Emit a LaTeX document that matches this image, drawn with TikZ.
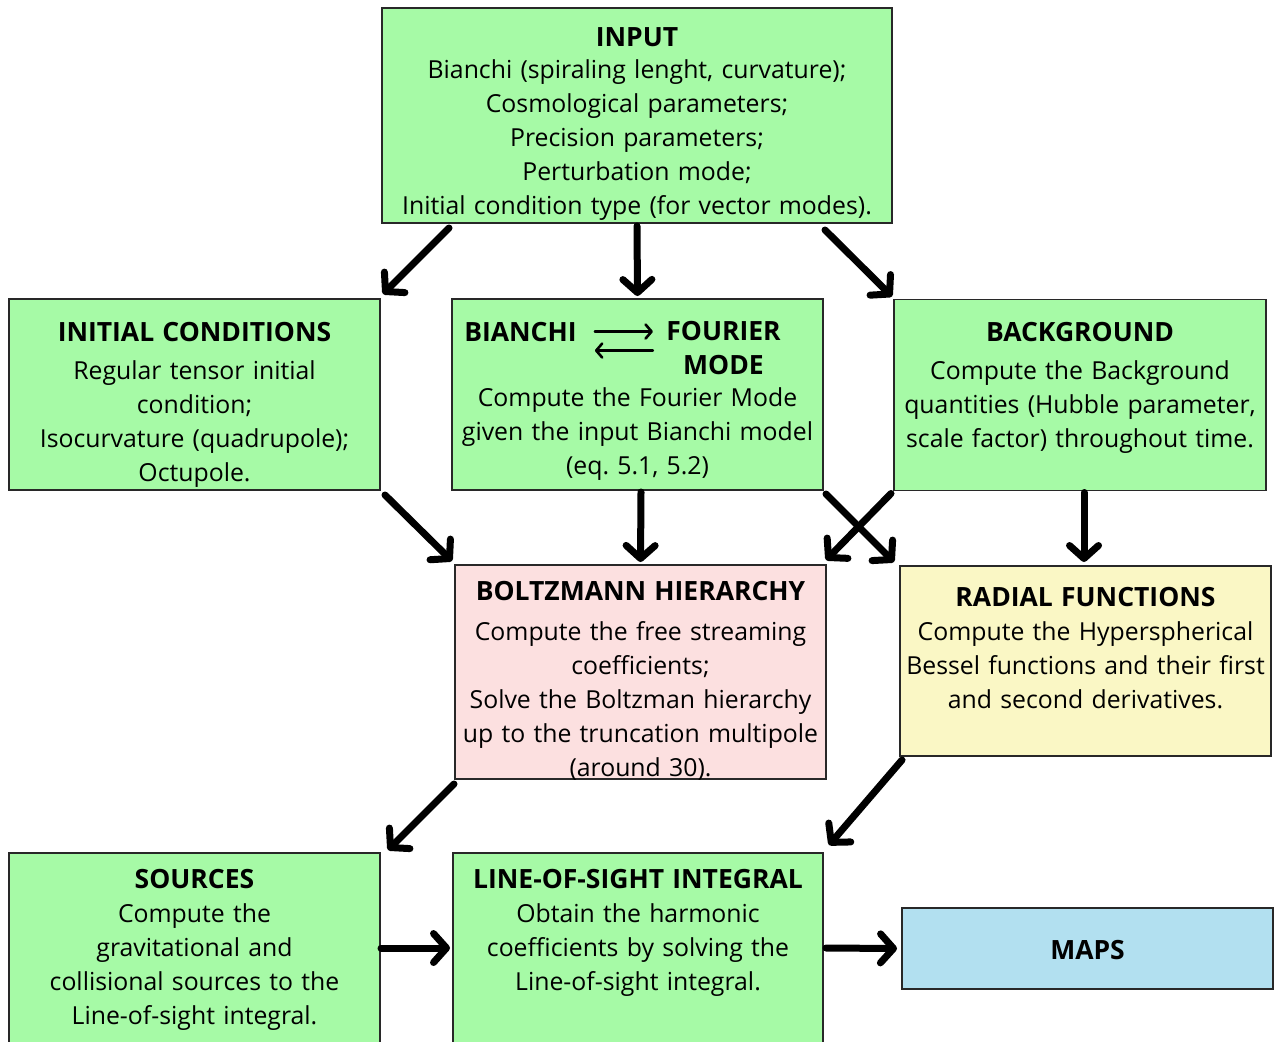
\documentclass[tikz,border=0pt]{standalone}
\usepackage{fontspec}
\setmainfont{Open Sans}
\usetikzlibrary{arrows.meta}
\definecolor{boxgreen}{RGB}{166,250,166}
\definecolor{boxpink}{RGB}{252,224,224}
\definecolor{boxyellow}{RGB}{250,247,197}
\definecolor{boxblue}{RGB}{178,224,240}
\definecolor{boxline}{RGB}{40,40,40}
\newcommand{\boxtitle}[1]{{\fontsize{26.5}{34}\selectfont\bfseries #1}}
\frenchspacing
\begin{document}
\begin{tikzpicture}[x=1pt,y=-1pt,font=\fontsize{24.8}{34}\selectfont,
        box/.style={draw=boxline,line width=1.6pt,align=center,anchor=base,inner xsep=2pt,inner ysep=0pt,outer sep=0pt},
        arr/.style={line width=7pt,line cap=round,-{Straight Barb[length=13pt,width=29pt,round]}},
        harr/.style={line width=2.6pt,line cap=round,-{Straight Barb[length=6pt,width=14pt,round]}}]
            \useasboundingbox (0,0) rectangle (1284,1041);
            \node[box,fill=boxgreen,text width=506pt,text height=39pt,text depth=176pt] (input) at (637,47)
                {\boxtitle{INPUT}\\[-2pt]Bianchi (spiraling lenght, curvature);\\Cosmological parameters;\\Precision parameters;\\Perturbation mode;\\Initial condition type (for vector modes).};
            \node[box,fill=boxgreen,text width=367pt,text height=42pt,text depth=149pt] (init) at (194.5,341)
                {\boxtitle{INITIAL CONDITIONS}\\[4pt]Regular tensor initial\\condition;\\Isocurvature (quadrupole);\\Octupole.};
            \node[box,fill=boxgreen,text width=367pt,text height=107.5pt,text depth=83.5pt] (bianchi) at (637.5,406.5)
                {Compute the Fourier Mode\\given the input Bianchi model\\(eq. 5.1, 5.2)};
            \node[inner sep=0pt,anchor=base] (bianchit) at (520.5,341) {\boxtitle{BIANCHI}};
            \node[inner sep=0pt,anchor=base,align=center] (fourt) at (723.5,374) {\boxtitle{FOURIER}\\\boxtitle{MODE}};
            \draw[harr] ([xshift=18pt,yshift=0pt]bianchit.east) -- ([xshift=76pt,yshift=0pt]bianchit.east);
            \draw[harr] ([xshift=76pt,yshift=-19pt]bianchit.east) -- ([xshift=18pt,yshift=-19pt]bianchit.east);
            \node[box,fill=boxgreen,text width=368pt,text height=41.5pt,text depth=149.5pt] (backgr) at (1080,341)
                {\boxtitle{BACKGROUND}\\[4pt]Compute the Background\\quantities (Hubble parameter,\\scale factor) throughout time.};
            \node[box,fill=boxpink,text width=367pt,text height=35pt,text depth=179pt] (boltz) at (640.5,600)
                {\boxtitle{BOLTZMANN HIERARCHY}\\[6pt]Compute the free streaming\\coefficients;\\Solve the Boltzman hierarchy\\up to the truncation multipole\\(around 30).};
            \node[box,fill=boxyellow,text width=367pt,text height=40pt,text depth=150pt] (radial) at (1085.5,606)
                {\boxtitle{RADIAL FUNCTIONS}\\Compute the Hyperspherical\\Bessel functions and their first\\and second derivatives.};
            \node[box,fill=boxgreen,text width=367pt,text height=35pt,text depth=190pt] (sources) at (194.5,888)
                {\boxtitle{SOURCES}\\Compute the\\gravitational and\\collisional sources to the\\Line-of-sight integral.};
            \node[box,fill=boxgreen,text width=366pt,text height=35pt,text depth=190pt] (los) at (638,888)
                {\boxtitle{LINE-OF-SIGHT INTEGRAL}\\Obtain the harmonic\\coefficients by solving the\\Line-of-sight integral.};
            \node[box,fill=boxblue,text width=367pt,text height=51.5pt,text depth=29.5pt] (maps) at (1087.5,959.5)
                {\boxtitle{MAPS}};
            \draw[arr] ([xshift=-188pt,yshift=-5pt]input.south) -- ([xshift=3pt,yshift=5pt]init.north east);
            \draw[arr] ([yshift=-3pt]input.south) -- ([yshift=3pt]bianchi.north);
            \draw[arr] ([xshift=-67pt,yshift=-7pt]input.south east) -- ([xshift=-2pt,yshift=3pt]backgr.north west);
            \draw[arr] ([xshift=5pt,yshift=-5pt]init.south east) -- ([xshift=-3pt,yshift=4pt]boltz.north west);
            \draw[arr] ([xshift=3.5pt,yshift=-2pt]bianchi.south) -- ([yshift=3pt]boltz.north);
            \draw[arr] ([xshift=-3pt,yshift=-3pt]backgr.south west) -- ([yshift=5pt]boltz.north east);
            \draw[arr] ([xshift=3pt,yshift=-4pt]bianchi.south east) -- ([xshift=-6pt,yshift=4pt]radial.north west);
            \draw[arr] ([xshift=4pt,yshift=-2pt]backgr.south) -- ([xshift=-1.5pt,yshift=4pt]radial.north);
            \draw[arr] ([xshift=-1pt,yshift=-5pt]boltz.south west) -- ([xshift=8pt,yshift=3pt]sources.north east);
            \draw[arr] ([xshift=2pt,yshift=-4pt]radial.south west) -- ([xshift=6pt,yshift=8pt]los.north east);
            \draw[arr] ([xshift=1pt,yshift=-95pt]sources.north east) -- ([xshift=-3pt,yshift=-95pt]los.north west);
            \draw[arr] ([xshift=3pt,yshift=-95pt]los.north east) -- ([xshift=-5pt]maps.west);
        \end{tikzpicture}
\end{document}
